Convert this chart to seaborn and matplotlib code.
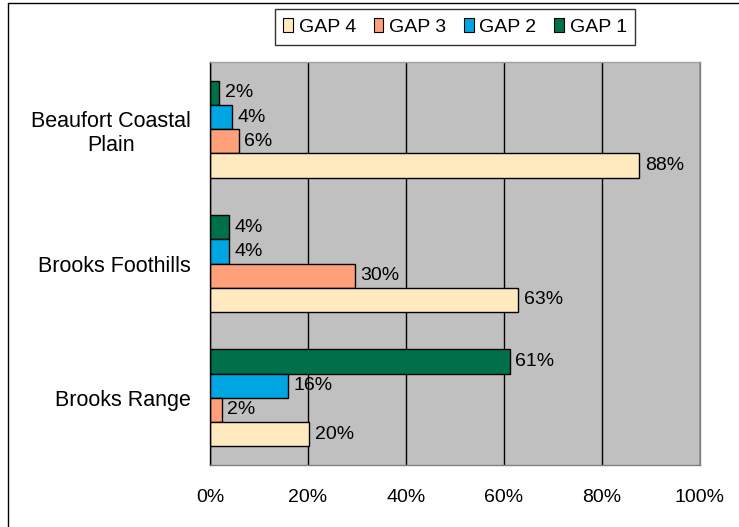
import pandas as pd
import seaborn as sns
import matplotlib.pyplot as plt
from matplotlib.lines import Line2D
from matplotlib.patches import Patch

# data
regions = ["Beaufort Coastal\nPlain", "Brooks Foothills", "Brooks Range"]
gaps = ["GAP 1", "GAP 2", "GAP 3", "GAP 4"]
gap1 = [1.9, 3.8, 61.2]
gap2 = [4.4, 3.8, 15.9]
gap3 = [5.9, 29.6, 2.4]
gap4 = [87.6, 62.9, 20.3]
colors = {"GAP 1": "#00704A", "GAP 2": "#00A6E2", "GAP 3": "#FFA07A", "GAP 4": "#FFE9BF"}

rows = []
for g, vals in zip(gaps, [gap1, gap2, gap3, gap4]):
    for r, v in zip(regions, vals):
        rows.append({"region": r, "gap": g, "pct": v})
df = pd.DataFrame(rows)

sns.set_style("white")
plt.rcParams['font.family'] = ['Liberation Sans', 'DejaVu Sans']
plt.rcParams['font.size'] = 14
plt.rcParams['text.color'] = 'black'
plt.rcParams['xtick.color'] = 'black'
plt.rcParams['ytick.color'] = 'black'

fig = plt.figure(figsize=(7.39, 5.27), dpi=100)
ax = fig.add_axes([210 / 739, 1 - 465 / 527, 490 / 739, 403 / 527])
ax.set_facecolor("#C0C0C0")

sns.barplot(data=df, y="region", x="pct", hue="gap", order=regions, hue_order=gaps,
            palette=colors, saturation=1, orient="h", width=0.72, edgecolor="black",
            linewidth=1, legend=False, ax=ax)

for c in ax.containers:
    ax.bar_label(c, labels=[f"{w:.0f}%" for w in c.datavalues], padding=4, fontsize=14)

ax.set_xlim(0, 100)
ax.set_ylim(2.5, -0.5)
ax.set_xticks(range(0, 101, 20))
ax.set_xticklabels([f"{t}%" for t in range(0, 101, 20)], fontsize=14)
ax.set_xlabel("")
ax.set_ylabel("")
ax.xaxis.grid(True, color="black", linewidth=1)
ax.set_axisbelow(True)

ax.tick_params(axis="y", length=0, pad=14, labelsize=15.5)
for lab in ax.get_yticklabels():
    lab.set_multialignment("center")
ax.set_yticks([-0.5, 0.5, 1.5, 2.5], minor=True)
ax.tick_params(axis="y", which="minor", length=6, width=1, color="black", direction="out")
ax.tick_params(axis="x", length=6, width=1, color="black", direction="out", pad=11)

ax.spines["left"].set_color("black")
ax.spines["bottom"].set_color("#808080")
ax.spines["top"].set_color("#A0A0A0")
ax.spines["right"].set_color("#808080")
for s in ax.spines.values():
    s.set_linewidth(1)

handles = [Patch(facecolor=colors[g], edgecolor="black", linewidth=0.8) for g in gaps[::-1]]
leg = fig.legend(handles, gaps[::-1], loc="center", bbox_to_anchor=(455 / 739, 1 - 27 / 527),
                 ncol=4, frameon=True, fancybox=False, handlelength=0.5, handleheight=0.7,
                 handletextpad=0.3, columnspacing=0.9, borderpad=0.45, fontsize=14)
leg.get_frame().set_edgecolor("black")
leg.get_frame().set_linewidth(1)

# outer frame
fig.add_artist(Line2D([8 / 739, 8 / 739], [0, 1 - 3 / 527], color="black", linewidth=1))
fig.add_artist(Line2D([8 / 739, 1], [1 - 3 / 527, 1 - 3 / 527], color="black", linewidth=1))

fig.savefig("out.png", dpi=100)
